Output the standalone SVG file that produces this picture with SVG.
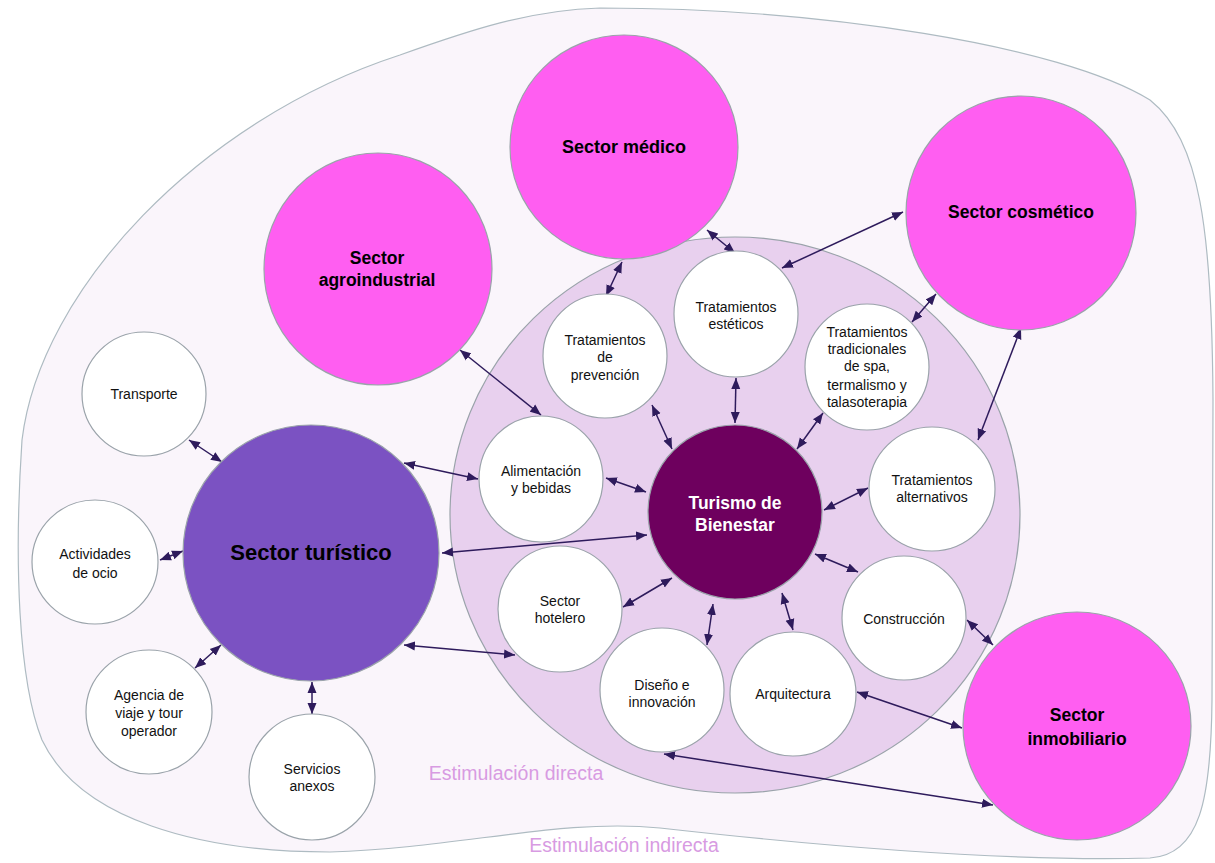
<svg xmlns="http://www.w3.org/2000/svg" width="1215" height="863" viewBox="0 0 1215 863">
<style>
.sec{fill:#FF5EF1;stroke:#9AA3AA;stroke-width:1.2}
.wc{fill:#FFFFFF;stroke:#9AA3AA;stroke-width:1.2}
.t{font-family:"Liberation Sans",Arial,sans-serif;font-size:14px;fill:#111;text-anchor:middle}
.b{font-family:"Liberation Sans",Arial,sans-serif;font-size:17.5px;font-weight:bold;fill:#000;text-anchor:middle}
.lab{font-family:"Liberation Sans",Arial,sans-serif;font-size:19.5px;fill:#D89BE2;text-anchor:middle}
.c{stroke:#2E1B5C;stroke-width:1.5;fill:none;marker-start:url(#ah);marker-end:url(#ah)}
</style>
<defs>
<marker id="ah" markerUnits="userSpaceOnUse" markerWidth="12" markerHeight="10" refX="11" refY="5" orient="auto-start-reverse">
<path d="M0,0.5 L11,5 L0,9.5 z" fill="#2E1B5C"/>
</marker>
</defs>
<rect width="1215" height="863" fill="#FFFFFF"/>
<g id="estimulacion-indirecta">
<path d="M600,8 C820,8 1060,45 1150,100 C1200,140 1212,230 1213,400 L1212,700 C1211,800 1200,855 1150,858 C1000,862 820,846 660,828 C560,818 460,848 330,852 C200,852 80,820 42,740 C18,680 14,560 22,440 C40,290 200,120 400,55 C470,30 530,10 600,8 Z" fill="#FAF5FB" stroke="#AEBBC2" stroke-width="1.2"/>
<text class="lab" x="624" y="852">Estimulación indirecta</text>
</g>
<g id="estimulacion-directa">
<ellipse cx="735" cy="515" rx="285" ry="278" fill="#E8D0EE" stroke="#9AA3AA" stroke-width="1.2"/>
<text class="lab" x="516" y="780">Estimulación directa</text>
</g>
<g id="connectors">
<line class="c" x1="189" y1="440" x2="222" y2="462"/>
<line class="c" x1="160" y1="560" x2="183" y2="551"/>
<line class="c" x1="195" y1="668" x2="221" y2="645"/>
<line class="c" x1="312" y1="682" x2="312" y2="714"/>
<line class="c" x1="404" y1="463" x2="478" y2="479"/>
<line class="c" x1="404" y1="645" x2="515" y2="655"/>
<line class="c" x1="442" y1="553" x2="647" y2="535"/>
<line class="c" x1="460" y1="350" x2="541" y2="415"/>
<line class="c" x1="622" y1="262" x2="606" y2="296"/>
<line class="c" x1="707" y1="230" x2="735" y2="253"/>
<line class="c" x1="903" y1="212" x2="782" y2="268"/>
<line class="c" x1="936" y1="294" x2="912" y2="322"/>
<line class="c" x1="1021" y1="328" x2="978" y2="440"/>
<line class="c" x1="967" y1="620" x2="993" y2="645"/>
<line class="c" x1="857" y1="692" x2="962" y2="728"/>
<line class="c" x1="664" y1="754" x2="993" y2="805"/>
<line class="c" x1="652" y1="405" x2="672" y2="449"/>
<line class="c" x1="736" y1="378" x2="735" y2="423"/>
<line class="c" x1="823" y1="413" x2="797" y2="449"/>
<line class="c" x1="868" y1="488" x2="824" y2="510"/>
<line class="c" x1="815" y1="554" x2="858" y2="572"/>
<line class="c" x1="782" y1="593" x2="793" y2="630"/>
<line class="c" x1="713" y1="604" x2="707" y2="645"/>
<line class="c" x1="672" y1="578" x2="623" y2="607"/>
<line class="c" x1="606" y1="478" x2="646" y2="492"/>
</g>
<g id="sector-medico">
<ellipse class="sec" cx="624" cy="147" rx="114" ry="112"/>
<text class="b" x="624" y="153" style="font-size:18px">Sector médico</text>
</g>
<g id="sector-agroindustrial">
<ellipse class="sec" cx="378" cy="269" rx="114" ry="116"/>
<text class="b" x="377" y="264">Sector</text>
<text class="b" x="377" y="286">agroindustrial</text>
</g>
<g id="sector-cosmetico">
<ellipse class="sec" cx="1021" cy="213" rx="115" ry="117"/>
<text class="b" x="1021" y="218">Sector cosmético</text>
</g>
<g id="sector-inmobiliario">
<ellipse class="sec" cx="1077" cy="726" rx="114" ry="114"/>
<text class="b" x="1077" y="721">Sector</text>
<text class="b" x="1077" y="745">inmobiliario</text>
</g>
<g id="sector-turistico">
<circle cx="311" cy="553" r="128" fill="#7B52C2" stroke="#9AA3AA" stroke-width="1.2"/>
<text class="b" x="311" y="560" style="font-size:22px">Sector turístico</text>
</g>
<g id="turismo-bienestar">
<circle cx="735" cy="512" r="87" fill="#6E005E" stroke="#9AA3AA" stroke-width="1.2"/>
<text class="b" x="735" y="509" style="fill:#FFFFFF">Turismo de</text>
<text class="b" x="735" y="531" style="fill:#FFFFFF">Bienestar</text>
</g>
<g id="transporte">
<ellipse class="wc" cx="144" cy="394" rx="62" ry="62"/>
<text class="t" x="144" y="399">Transporte</text>
</g>
<g id="actividades-ocio">
<ellipse class="wc" cx="95" cy="562" rx="63" ry="62"/>
<text class="t" x="95" y="559">Actividades</text>
<text class="t" x="95" y="578">de ocio</text>
</g>
<g id="agencia-viaje">
<ellipse class="wc" cx="149" cy="712" rx="63" ry="62"/>
<text class="t" x="149" y="700">Agencia de</text>
<text class="t" x="149" y="718">viaje y tour</text>
<text class="t" x="149" y="736">operador</text>
</g>
<g id="servicios-anexos">
<ellipse class="wc" cx="312" cy="777" rx="63" ry="63"/>
<text class="t" x="312" y="774">Servicios</text>
<text class="t" x="312" y="791">anexos</text>
</g>
<g id="tratamientos-prevencion">
<ellipse class="wc" cx="605" cy="356" rx="62" ry="62"/>
<text class="t" x="605" y="345">Tratamientos</text>
<text class="t" x="605" y="362">de</text>
<text class="t" x="605" y="380">prevención</text>
</g>
<g id="tratamientos-esteticos">
<ellipse class="wc" cx="736" cy="314" rx="62" ry="63"/>
<text class="t" x="736" y="312">Tratamientos</text>
<text class="t" x="736" y="329">estéticos</text>
</g>
<g id="tratamientos-tradicionales">
<ellipse class="wc" cx="867" cy="367" rx="62" ry="63"/>
<text class="t" x="867" y="337">Tratamientos</text>
<text class="t" x="867" y="354">tradicionales</text>
<text class="t" x="867" y="371">de spa,</text>
<text class="t" x="867" y="390">termalismo y</text>
<text class="t" x="867" y="407">talasoterapia</text>
</g>
<g id="tratamientos-alternativos">
<ellipse class="wc" cx="932" cy="489" rx="63" ry="62"/>
<text class="t" x="932" y="485">Tratamientos</text>
<text class="t" x="932" y="502">alternativos</text>
</g>
<g id="construccion">
<ellipse class="wc" cx="904" cy="618" rx="62" ry="62"/>
<text class="t" x="904" y="624">Construcción</text>
</g>
<g id="arquitectura">
<ellipse class="wc" cx="793" cy="694" rx="63" ry="62"/>
<text class="t" x="793" y="699">Arquitectura</text>
</g>
<g id="diseno-innovacion">
<ellipse class="wc" cx="662" cy="690" rx="62" ry="62"/>
<text class="t" x="662" y="690">Diseño e</text>
<text class="t" x="662" y="707">innovación</text>
</g>
<g id="sector-hotelero">
<ellipse class="wc" cx="560" cy="609" rx="62" ry="63"/>
<text class="t" x="560" y="606">Sector</text>
<text class="t" x="560" y="623">hotelero</text>
</g>
<g id="alimentacion-bebidas">
<ellipse class="wc" cx="541" cy="479" rx="62" ry="63"/>
<text class="t" x="541" y="476">Alimentación</text>
<text class="t" x="541" y="493">y bebidas</text>
</g>
</svg>
